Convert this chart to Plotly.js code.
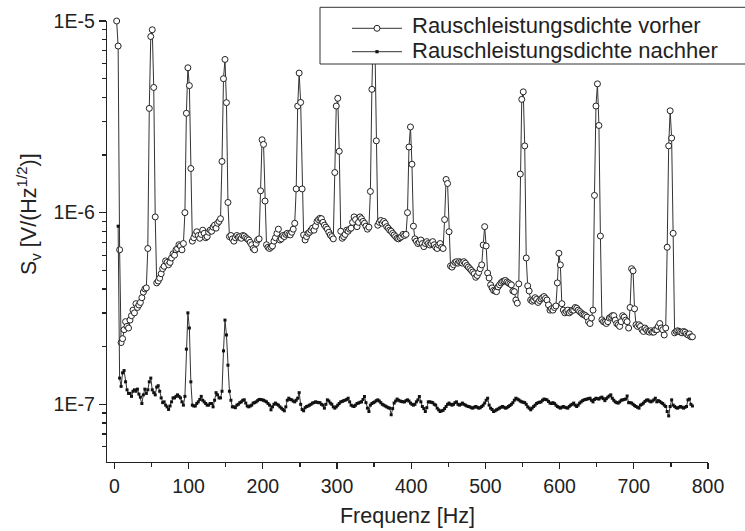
<!DOCTYPE html>
<html>
<head>
<meta charset="utf-8">
<script src="https://cdn.plot.ly/plotly-3.0.1.min.js"></script>
<style>
  html, body { margin: 0; padding: 0; background: #fff; }
  #chart { width: 745px; height: 531px; }
</style>
</head>
<body>
<div id="chart"></div>
<script>
// Noise spectral density before/after, sampled on a 2 Hz frequency grid.
// Values are given in units of 1e-7 V/sqrt(Hz).
const UNIT = 1e-7;
const FREQ_STEP = 2;            // Hz between spectral bins
const VORHER_START = 3;         // Hz, first bin of the "vorher" spectrum
const NACHHER_START = 5;        // Hz, first bin of the "nachher" spectrum

const seriesNames = ['Rauschleistungsdichte vorher', 'Rauschleistungsdichte nachher'];

// "vorher": f = 3, 5, ..., 779 Hz (10 bins per row)
const vorher = [
  100, 74, 6.4, 2.1, 2.2, 2.45, 2.7, 2.55, 2.5, 2.75,
  2.9, 3.1, 3.0, 3.35, 3.2, 3.3, 3.4, 3.6, 3.85, 4.0,
  4.05, 6.5, 35, 83, 90, 45, 9.5, 4.3, 4.4, 4.55,
  4.8, 5.1, 5.25, 5.6, 5.5, 5.35, 5.5, 5.8, 6.1, 6.0,
  6.4, 6.5, 6.8, 6.7, 6.4, 6.9, 10, 33, 57, 46,
  17, 7.1, 7.4, 7.7, 7.95, 7.6, 7.35, 7.7, 8.1, 7.8,
  7.4, 7.5, 7.9, 8.1, 8.0, 8.4, 8.6, 8.3, 8.8, 9.0,
  9.3, 18.5, 50, 63, 37.5, 11.3, 7.5, 7.6, 7.3, 7.1,
  7.4, 7.6, 7.45, 7.5, 7.35, 7.6, 7.55, 7.4, 7.3, 7.2,
  7.0, 6.8, 6.5, 6.4, 6.9, 7.2, 7.3, 13, 24, 22.7,
  11.5, 6.8, 6.6, 6.5, 6.6, 6.7, 7.1, 7.4, 7.8, 8.2,
  7.2, 7.3, 7.6, 7.5, 7.7, 7.8, 7.7, 7.65, 7.9, 8.2,
  8.8, 13.3, 36, 53.5, 37.6, 13.3, 7.65, 7.2, 7.5, 7.8,
  7.9, 8.1, 8.3, 8.1, 8.5, 9.0, 9.2, 9.35, 9.3, 8.9,
  8.6, 8.4, 8.2, 7.9, 7.65, 7.5, 7.3, 16.2, 36, 39.5,
  20.9, 8.0, 7.35, 7.5, 7.7, 8.1, 8.0, 8.2, 8.3, 8.9,
  9.5, 9.2, 8.45, 8.9, 9.5, 9.3, 9.0, 8.8, 8.5, 8.2,
  8.4, 12.9, 44, 95, 80, 23.7, 8.6, 8.9, 9.1, 8.8,
  9.0, 8.8, 8.45, 8.3, 8.1, 8.0, 7.8, 7.65, 7.5, 7.35,
  7.3, 7.4, 7.5, 7.7, 7.6, 7.7, 10, 22, 28, 17.9,
  8.5, 7.3, 7.1, 6.9, 7.0, 7.2, 6.9, 6.65, 6.9, 7.06,
  6.9, 6.78, 6.9, 7.06, 6.8, 6.6, 6.5, 6.78, 6.9, 6.6,
  6.5, 9.2, 14.9, 14.2, 7.95, 5.27, 5.2, 5.35, 5.5, 5.55,
  5.45, 5.55, 5.5, 5.45, 5.55, 5.45, 5.3, 5.2, 5.1, 5.0,
  4.9, 4.8, 4.6, 4.7, 4.87, 5.1, 5.34, 6.78, 8.45, 6.7,
  4.84, 4.56, 4.2, 4.05, 3.93, 3.9, 3.87, 4.1, 4.2, 4.3,
  4.37, 4.4, 4.43, 4.35, 4.3, 4.25, 4.2, 3.9, 3.87, 3.5,
  3.37, 4.25, 15.9, 39, 42.7, 22.3, 5.8, 4.15, 3.9, 3.5,
  3.45, 3.5, 3.6, 3.53, 3.4, 3.48, 3.55, 3.6, 3.65, 3.57,
  3.5, 3.3, 3.1, 3.15, 3.1, 3.2, 3.26, 4.3, 6.14, 5.34,
  3.35, 3.1, 3.0, 3.05, 3.1, 3.0, 3.05, 3.1, 3.1, 3.2,
  3.17, 3.1, 3.05, 3.0, 2.95, 2.93, 2.9, 2.85, 2.7, 2.64,
  2.82, 3.1, 12.3, 36, 47, 28.5, 7.55, 2.76, 2.7, 2.68,
  2.64, 2.7, 2.82, 2.85, 2.9, 2.9, 2.75, 2.64, 2.6, 2.55,
  2.7, 2.9, 2.85, 2.75, 2.7, 2.5, 3.2, 5.1, 4.97, 3.15,
  2.6, 2.55, 2.6, 2.55, 2.45, 2.4, 2.5, 2.45, 2.4, 2.38,
  2.42, 2.38, 2.38, 2.45, 2.45, 2.55, 2.64, 2.5, 2.45, 2.3,
  2.5, 6.6, 22.3, 34, 24.5, 7.8, 2.36, 2.4, 2.42, 2.4,
  2.38, 2.36, 2.4, 2.38, 2.33, 2.3, 2.33, 2.25, 2.25
];

// "nachher": f = 5, 7, ..., 779 Hz (10 bins per row)
const nachher = [
  8.5, 1.37, 1.24, 1.46, 1.5, 1.31, 1.19, 1.14, 1.14, 1.1,
  1.17, 1.19, 1.17, 1.2, 1.13, 1.09, 1.01, 1.12, 1.2, 1.14,
  1.19, 1.31, 1.37, 1.19, 1.15, 1.12, 1.23, 1.25, 1.17, 1.08,
  1.02, 1.03, 0.99, 0.97, 0.94, 0.98, 1.03, 1.08, 1.08, 1.1,
  1.12, 1.1, 1.08, 1.03, 0.99, 1.1, 1.94, 3.0, 2.5, 1.31,
  0.99, 0.98, 0.98, 1.01, 1.03, 1.06, 1.1, 1.05, 1.03, 1.01,
  0.99, 0.99, 1.01, 1.01, 0.97, 1.05, 1.15, 1.12, 1.08, 1.08,
  1.17, 1.9, 2.75, 2.3, 1.6, 1.17, 1.05, 0.97, 0.97, 0.96,
  0.99, 1.0, 1.02, 1.03, 1.05, 1.055, 1.015, 0.98, 0.97, 0.98,
  0.99, 1.015, 1.02, 1.03, 1.045, 1.06, 1.06, 1.055, 1.05, 1.04,
  1.03, 1.01, 0.99, 0.936, 0.97, 1.0, 1.015, 1.0, 0.99, 0.97,
  0.955, 0.94, 0.925, 0.97, 1.05, 1.076, 1.06, 1.055, 1.04, 1.03,
  1.05, 1.076, 1.15, 1.0, 0.94, 0.925, 0.96, 0.974, 0.98, 0.99,
  1.0, 1.015, 1.02, 1.03, 1.025, 1.02, 1.02, 1.0, 0.99, 0.955,
  1.0, 1.055, 1.04, 1.015, 1.0, 0.97, 0.955, 0.97, 0.99, 1.01,
  1.03, 1.035, 1.045, 1.05, 1.06, 1.076, 1.03, 0.99, 0.98, 0.974,
  0.99, 1.01, 1.015, 1.025, 1.03, 1.06, 1.098, 1.02, 0.955, 0.917,
  0.99, 1.01, 1.02, 1.03, 1.045, 1.055, 1.04, 1.02, 1.0, 0.99,
  0.98, 0.97, 0.96, 0.955, 0.882, 0.95, 1.015, 1.04, 1.065, 1.05,
  1.04, 1.035, 1.03, 1.03, 1.045, 1.055, 1.04, 1.015, 1.0, 0.99,
  1.0, 1.03, 1.055, 1.098, 1.03, 0.974, 0.95, 0.917, 0.96, 1.03,
  1.03, 1.025, 1.02, 1.0, 0.99, 0.955, 0.935, 0.917, 0.925, 0.93,
  0.95, 0.974, 1.0, 1.015, 1.0, 0.99, 1.0, 1.02, 1.03, 1.0,
  0.99, 1.0, 1.015, 1.0, 0.99, 0.98, 0.974, 0.97, 0.96, 0.955,
  0.965, 0.974, 0.965, 0.955, 0.96, 0.974, 0.99, 1.015, 1.05, 1.076,
  0.99, 0.955, 0.94, 0.917, 0.925, 0.936, 0.945, 0.955, 0.965, 0.974,
  0.965, 0.955, 0.96, 0.974, 0.985, 1.0, 1.02, 1.05, 1.076, 1.065,
  1.055, 1.04, 1.03, 1.025, 1.02, 1.0, 0.97, 0.955, 0.936, 0.955,
  0.974, 0.99, 1.01, 1.02, 1.025, 1.03, 1.05, 1.065, 1.06, 1.055,
  1.035, 1.015, 1.01, 1.02, 1.01, 0.99, 0.974, 0.965, 0.955, 0.965,
  0.974, 0.965, 0.96, 0.955, 0.975, 0.99, 1.0, 1.015, 0.99, 0.974,
  0.99, 1.015, 1.03, 1.045, 1.055, 1.06, 1.065, 1.07, 1.076, 1.05,
  1.03, 1.06, 1.076, 1.07, 1.065, 1.08, 1.09, 1.07, 1.045, 1.07,
  1.09, 1.105, 1.12, 1.076, 1.05, 1.03, 1.02, 1.015, 1.03, 1.05,
  1.055, 1.06, 1.065, 1.105, 1.02, 1.02, 1.015, 1.0, 0.985, 0.974,
  0.965, 0.955, 0.99, 1.0, 1.015, 1.035, 1.05, 1.055, 1.04, 1.03,
  1.04, 1.055, 1.076, 1.03, 1.045, 1.035, 1.02, 1.01, 0.99, 0.974,
  0.917, 0.87, 0.974, 1.055, 0.99, 0.975, 0.96, 0.955, 0.965, 0.974,
  0.965, 0.955, 0.965, 0.974, 1.055, 1.065, 1.0, 0.98
];

const freqVorher = vorher.map((_, i) => VORHER_START + i * FREQ_STEP);
const freqNachher = nachher.map((_, i) => NACHHER_START + i * FREQ_STEP);

const xTicks = [0, 100, 200, 300, 400, 500, 600, 700, 800];
const yTicks = [1e-7, 1e-6, 1e-5];
const yTickText = ['1E-7', '1E-6', '1E-5'];
const yMinorTicks = [6e-8, 7e-8, 8e-8, 9e-8,
  2e-7, 3e-7, 4e-7, 5e-7, 6e-7, 7e-7, 8e-7, 9e-7,
  2e-6, 3e-6, 4e-6, 5e-6, 6e-6, 7e-6, 8e-6, 9e-6];

const FONT = '"Liberation Sans", Arial, Helvetica, sans-serif';
const INK = '#222';

// Plot frame in pixels (used to place the legend box and the y title)
const W = 745, H = 531;
const M = { l: 107, r: 37, t: 21, b: 69 };
const PW = W - M.l - M.r, PH = H - M.t - M.b;
const px = p => (p - M.l) / PW;          // page x (px) -> paper x
const py = p => (M.t + PH - p) / PH;     // page y (px) -> paper y

const circleStyle = { color: '#fff', line: { color: '#222', width: 1 } };
const squareStyle = { color: '#111' };
const lineStyle = { color: '#333', width: 1 };

const traces = [
  {
    name: seriesNames[0],
    x: freqVorher,
    y: vorher.map(v => v * UNIT),
    type: 'scatter',
    mode: 'lines+markers',
    cliponaxis: false,
    line: lineStyle,
    marker: Object.assign({ symbol: 'circle', size: 6 }, circleStyle)
  },
  {
    name: seriesNames[1],
    x: freqNachher,
    y: nachher.map(v => v * UNIT),
    type: 'scatter',
    mode: 'lines+markers',
    cliponaxis: false,
    line: lineStyle,
    marker: { symbol: 'square', size: 3, color: squareStyle.color, line: { width: 0 } }
  }
];

// Legend box drawn on top of the curves
const legRows = [28.3, 51.7];
const legLineX = [352, 402];
const legMarkX = 377;
const shapes = [
  { type: 'rect', xref: 'paper', yref: 'paper', layer: 'above',
    x0: px(320), x1: px(745.5), y0: py(64), y1: py(7.3),
    fillcolor: '#fff', line: { color: '#333', width: 1 } }
];
legRows.forEach((ry, i) => {
  shapes.push({ type: 'line', xref: 'paper', yref: 'paper', layer: 'above',
    x0: px(legLineX[0]), x1: px(legLineX[1]), y0: py(ry), y1: py(ry), line: lineStyle });
  if (i === 0) {
    shapes.push({ type: 'circle', xref: 'paper', yref: 'paper', layer: 'above',
      xsizemode: 'pixel', ysizemode: 'pixel', xanchor: px(legMarkX), yanchor: py(ry),
      x0: -3, x1: 3, y0: -3, y1: 3, fillcolor: circleStyle.color, line: circleStyle.line });
  } else {
    shapes.push({ type: 'rect', xref: 'paper', yref: 'paper', layer: 'above',
      xsizemode: 'pixel', ysizemode: 'pixel', xanchor: px(legMarkX), yanchor: py(ry),
      x0: -1.6, x1: 1.6, y0: -1.6, y1: 1.6, fillcolor: squareStyle.color, line: { width: 0 } });
  }
});

const annotations = [
  { text: seriesNames[0], xref: 'paper', yref: 'paper', x: px(410), y: py(25), xanchor: 'left', yanchor: 'middle',
    showarrow: false, font: { family: FONT, size: 22, color: INK } },
  { text: seriesNames[1], xref: 'paper', yref: 'paper', x: px(410), y: py(50), xanchor: 'left', yanchor: 'middle',
    showarrow: false, font: { family: FONT, size: 22, color: INK } },
  { text: 'S<sub>v</sub> [V/(Hz<sup>1/2</sup>)]', xref: 'paper', yref: 'paper', x: px(28), y: py(214),
    xanchor: 'center', yanchor: 'middle', textangle: -90, showarrow: false,
    font: { family: FONT, size: 21.5, color: INK } }
];

const layout = {
  width: W,
  height: H,
  margin: { l: M.l, r: M.r, t: M.t, b: M.b, pad: 0 },
  paper_bgcolor: '#fff',
  plot_bgcolor: '#fff',
  font: { family: FONT, color: INK, size: 19.5 },
  showlegend: false,
  shapes: shapes,
  annotations: annotations,
  xaxis: {
    range: [-10, 800],
    tickmode: 'array',
    tickvals: xTicks,
    ticks: 'outside', ticklen: 6, tickwidth: 1.3, tickcolor: INK,
    minor: { dtick: 50, tick0: 0, ticks: 'outside', ticklen: 4, tickwidth: 1.3, tickcolor: INK },
    showline: true, linecolor: INK, linewidth: 1.3,
    showgrid: false, zeroline: false,
    tickfont: { family: FONT, size: 19.5, color: INK },
    title: { text: 'Frequenz [Hz]', font: { family: FONT, size: 21.5, color: INK }, standoff: 12 }
  },
  yaxis: {
    type: 'log',
    range: [Math.log10(5e-8), -5],
    tickmode: 'array',
    tickvals: yTicks,
    ticktext: yTickText,
    ticks: 'outside', ticklen: 7, tickwidth: 1.3, tickcolor: INK,
    minor: { tickmode: 'array', tickvals: yMinorTicks, ticks: 'outside', ticklen: 4, tickwidth: 1.3, tickcolor: INK },
    showline: true, linecolor: INK, linewidth: 1.3,
    showgrid: false, zeroline: false,
    tickfont: { family: FONT, size: 19.5, color: INK }
  }
};

Plotly.newPlot('chart', traces, layout, { displayModeBar: false, staticPlot: true });
</script>
</body>
</html>
